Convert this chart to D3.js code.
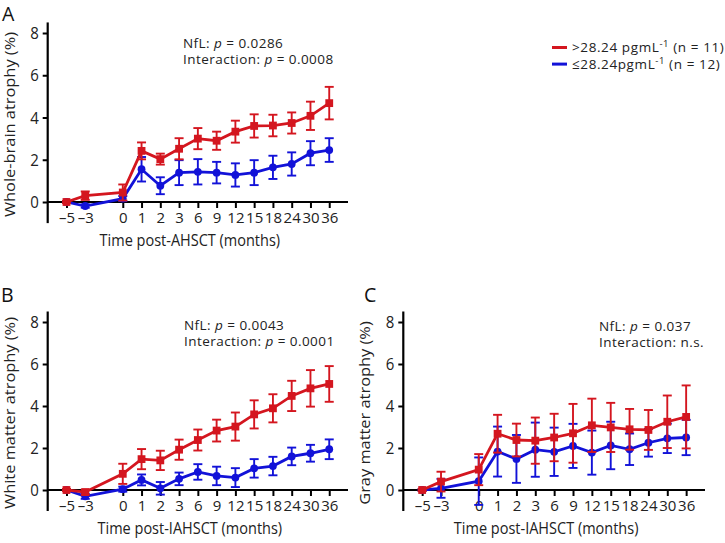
<!DOCTYPE html>
<html>
<head>
<meta charset="utf-8">
<style>
body, html {
  margin: 0;
  background: #fff;
  font-family: "Open Sans", sans-serif;
}
.axis line {
  stroke: #000;
  stroke-width: 2;
}
.axis text {
  fill: #222;
  font-family: "Open Sans", sans-serif;
  font-size: 15px;
}
.title {
  font-size: 14.5px;
  fill: #222;
}
.note {
  font-size: 13.5px;
  letter-spacing: 0.45px;
  fill: #222;
}
.letter {
  font-size: 19.5px;
  fill: #111;
}
</style>
<script src="https://cdn.jsdelivr.net/npm/d3@7"></script>
</head>
<body>
<script>

// time points (months), drawn evenly with a gap between -3 and 0
var months = ["\u20135", "\u20133", "0", "1", "2", "3", "6", "9", "12", "15", "18", "24", "30", "36"];

// A: whole-brain atrophy (%)
var wbHigh    = [0, 0.30, 0.45, 2.42, 2.03, 2.52, 3.00, 2.90, 3.33, 3.60, 3.62, 3.74, 4.08, 4.68];
var wbHighErr = [0.05, 0.20, 0.38, 0.40, 0.26, 0.50, 0.50, 0.43, 0.52, 0.55, 0.51, 0.50, 0.67, 0.77];
var wbLow     = [0, -0.19, 0.16, 1.55, 0.77, 1.39, 1.43, 1.39, 1.28, 1.39, 1.64, 1.80, 2.31, 2.46];
var wbLowErr  = [0.05, 0.08, 0.12, 0.58, 0.40, 0.59, 0.60, 0.51, 0.55, 0.59, 0.55, 0.55, 0.57, 0.56];

// B: white matter atrophy (%)
var wmHigh    = [0, -0.10, 0.77, 1.47, 1.41, 1.92, 2.38, 2.83, 3.02, 3.60, 3.89, 4.48, 4.84, 5.05];
var wmHighErr = [0.05, 0.12, 0.48, 0.48, 0.46, 0.48, 0.50, 0.52, 0.67, 0.67, 0.67, 0.72, 0.87, 0.85];
var wmLow     = [0, -0.30, 0.04, 0.48, 0.08, 0.53, 0.86, 0.67, 0.59, 1.03, 1.14, 1.60, 1.75, 1.94];
var wmLowErr  = [0.04, 0.12, 0.12, 0.26, 0.30, 0.30, 0.37, 0.44, 0.45, 0.44, 0.44, 0.42, 0.40, 0.47];

// C: gray matter atrophy (%)
var gmHigh    = [0, 0.40, 0.97, 2.68, 2.38, 2.35, 2.50, 2.70, 3.08, 2.98, 2.89, 2.86, 3.25, 3.48];
var gmHighErr = [0.05, 0.47, 0.74, 0.90, 0.78, 1.10, 1.13, 1.40, 1.27, 1.17, 0.97, 0.95, 1.25, 1.50];
var gmLow     = [0, 0.08, 0.42, 1.83, 1.48, 1.92, 1.82, 2.10, 1.78, 2.12, 1.94, 2.25, 2.46, 2.50];
var gmLowErr  = [0.04, 0.45, 1.13, 1.19, 1.14, 1.29, 1.15, 1.05, 1.05, 1.13, 0.75, 0.66, 0.70, 0.84];

var yTicks = [0, 2, 4, 6, 8];
var seriesNames = [">28.24 pgmL", "\u226428.24pgmL"];
var seriesN = ["(n = 11)", "(n = 12)"];

var red = "#d4161f",
    blue = "#1212d8";

var width = 725,
    height = 543,
    sy = 1.13;   // axis lettering in the figure is a little taller than wide

var svg = d3.select("body").append("svg")
    .attr("width", width)
    .attr("height", height);

function slot(i) { return i < 2 ? i : i + 1; }

function place(sel, x, y, rot) {
  return sel.attr("transform", "translate(" + x + "," + y + ")" +
    (rot ? " rotate(-90) scale(" + sy + ",1)" : " scale(1," + sy + ")"));
}

//--------------------------------------
function drawPanel(p) {
  var x = d3.scaleLinear().domain([-1, 15]).range([p.left, p.right]);
  var y = d3.scaleLinear().domain([0, 8]).range([p.zero, p.top8]);
  var g = svg.append("g");

  // axes
  var ya = g.append("g")
    .attr("class", "axis")
    .attr("transform", "translate(" + p.left + ",0)")
    .call(d3.axisLeft(y).tickValues(yTicks).tickSize(5).tickPadding(4).tickSizeOuter(0));
  ya.select(".domain").remove();
  ya.selectAll("text")
    .attr("dy", "0.33em")
    .attr("transform", "scale(1," + sy + ")");
  g.append("line")
    .attr("x1", p.left).attr("x2", p.left)
    .attr("y1", y(-1)).attr("y2", y(8.5))
    .attr("stroke", "#000").attr("stroke-width", 2.2);

  var xa = g.append("g")
    .attr("class", "axis")
    .attr("transform", "translate(0," + y(0) + ")")
    .call(d3.axisBottom(x)
      .tickValues(months.map(function(d, i) { return slot(i); }))
      .tickFormat(function(d, i) { return months[i]; })
      .tickSize(6).tickPadding(4).tickSizeOuter(0));
  xa.select(".domain").remove();
  xa.selectAll("text")
    .attr("dy", "0.72em");
  g.append("line")
    .attr("x1", p.left).attr("x2", p.right)
    .attr("y1", y(0)).attr("y2", y(0))
    .attr("stroke", "#000").attr("stroke-width", 2.2);

  // titles
  place(g.append("text")
    .attr("class", "title")
    .attr("text-anchor", "middle")
    .text(p.xTitle), (p.left + p.right) / 2 - 8, y(0) + 43.5);
  place(g.append("text")
    .attr("class", "title")
    .attr("text-anchor", "middle")
    .text(p.yTitle), p.left - 33, y(4) + 7, true);
  g.append("text")
    .attr("class", "letter")
    .attr("x", p.letterX).attr("y", p.letterY)
    .text(p.letter);

  // annotation
  p.notes.forEach(function(n, k) {
    var t = g.append("text").attr("class", "note")
      .attr("x", p.noteX).attr("y", p.noteY + k * 16.6);
    t.append("tspan").text(n[0]);
    if (n[1] != null) {
      t.append("tspan").attr("font-style", "italic").text("p");
      t.append("tspan").text(" = " + n[1]);
    }
  });

  // series: low first, high on top
  var series = [
    {vals: p.low, err: p.lowErr, color: blue, shape: "circle"},
    {vals: p.high, err: p.highErr, color: red, shape: "square"}
  ];
  series.forEach(function(s) {
    var pts = s.vals.map(function(v, i) { return {x: slot(i), v: v, e: s.err[i]}; });
    var sg = g.append("g");
    sg.selectAll("line.err")
      .data(pts).enter().append("line")
      .attr("class", "err")
      .attr("x1", function(d) { return x(d.x); })
      .attr("x2", function(d) { return x(d.x); })
      .attr("y1", function(d) { return y(d.v - d.e); })
      .attr("y2", function(d) { return y(d.v + d.e); })
      .attr("stroke", s.color).attr("stroke-width", 1.9);
    [1, -1].forEach(function(sign) {
      sg.selectAll("line.cap" + sign)
        .data(pts).enter().append("line")
        .attr("x1", function(d) { return x(d.x) - 4.5; })
        .attr("x2", function(d) { return x(d.x) + 4.5; })
        .attr("y1", function(d) { return y(d.v + sign * d.e); })
        .attr("y2", function(d) { return y(d.v + sign * d.e); })
        .attr("stroke", s.color).attr("stroke-width", 1.9);
    });
    sg.append("path")
      .datum(pts)
      .attr("fill", "none")
      .attr("stroke", s.color)
      .attr("stroke-width", 2.8)
      .attr("d", d3.line().x(function(d) { return x(d.x); }).y(function(d) { return y(d.v); }));
    if (s.shape === "circle") {
      sg.selectAll("circle")
        .data(pts).enter().append("circle")
        .attr("cx", function(d) { return x(d.x); })
        .attr("cy", function(d) { return y(d.v); })
        .attr("r", 3.9)
        .attr("fill", s.color);
    } else {
      sg.selectAll("rect")
        .data(pts).enter().append("rect")
        .attr("x", function(d) { return x(d.x) - 3.9; })
        .attr("y", function(d) { return y(d.v) - 3.9; })
        .attr("width", 7.8).attr("height", 7.8)
        .attr("fill", s.color);
    }
  });
}

drawPanel({
  left: 47.7, right: 348, zero: 202, top8: 33,
  letter: "A", letterX: 2, letterY: 21,
  xTitle: "Time post-AHSCT (months)", yTitle: "Whole-brain atrophy (%)",
  noteX: 183, noteY: 47.5,
  notes: [["NfL: ", "0.0286"], ["Interaction: ", "0.0008"]],
  high: wbHigh, highErr: wbHighErr, low: wbLow, lowErr: wbLowErr
});

drawPanel({
  left: 47.7, right: 348, zero: 490, top8: 322,
  letter: "B", letterX: 1, letterY: 302,
  xTitle: "Time post-IAHSCT (months)", yTitle: "White matter atrophy (%)",
  noteX: 184, noteY: 329.5,
  notes: [["NfL: ", "0.0043"], ["Interaction: ", "0.0001"]],
  high: wmHigh, highErr: wmHighErr, low: wmLow, lowErr: wmLowErr
});

drawPanel({
  left: 403.3, right: 705, zero: 490, top8: 322,
  letter: "C", letterX: 364, letterY: 302,
  xTitle: "Time post-IAHSCT (months)", yTitle: "Gray matter atrophy (%)",
  noteX: 599, noteY: 330.5,
  notes: [["NfL: ", "0.037"], ["Interaction: n.s.", null]],
  high: gmHigh, highErr: gmHighErr, low: gmLow, lowErr: gmLowErr
});

// legend
var legend = svg.append("g").attr("transform", "translate(552,47.5)");
[red, blue].forEach(function(c, k) {
  var row = legend.append("g").attr("transform", "translate(0," + k * 16.6 + ")");
  row.append("line")
    .attr("x1", 0).attr("x2", 15)
    .attr("stroke", c).attr("stroke-width", 3);
  var t = row.append("text").attr("class", "note")
    .style("letter-spacing", "0.6px")
    .attr("x", 20).attr("y", 4.8);
  t.append("tspan").text(seriesNames[k]);
  t.append("tspan").attr("dy", -5).style("font-size", "9.5px").text("-1");
  t.append("tspan").attr("dy", 5).text(" " + seriesN[k]);
});

</script>
</body>
</html>
